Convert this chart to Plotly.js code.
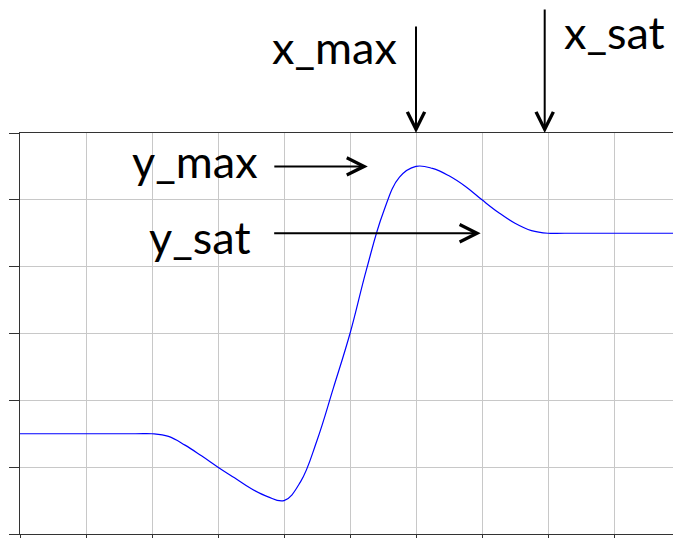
<!DOCTYPE html>
<html>
<head>
<meta charset="utf-8">
<script src="https://cdn.plot.ly/plotly-3.0.1.min.js"></script>
<style>
  body { margin: 0; overflow: hidden; background: #fff; }
  #plot { width: 673px; height: 538px; }
</style>
</head>
<body>
<div id="plot"></div>
<script>
// Curve values (roughly every quarter grid step)
const xValues = [0, 1.75, 2, 2.25, 2.5, 2.75, 3, 3.25, 3.5, 3.75, 4, 4.25, 4.5, 4.75, 5, 5.25, 5.5, 5.75, 6, 6.25, 6.5, 6.75, 7, 7.25, 7.5, 7.75, 8, 8.25, 9.9];
const yValues = [1.5, 1.5, 1.5, 1.46, 1.33, 1.17, 1.0, 0.84, 0.68, 0.56, 0.5, 0.78, 1.4, 2.19, 3.0, 3.96, 4.8, 5.34, 5.5, 5.47, 5.36, 5.2, 5.0, 4.81, 4.65, 4.54, 4.5, 4.5, 4.5];

// Marker labels
const labels = ['x_max', 'x_sat', 'y_max', 'y_sat'];

const trace = {
    x: xValues,
    y: yValues,
    mode: 'lines',
    type: 'scatter',
    line: { color: '#0000ff', width: 1.2, shape: 'spline', smoothing: 1.15 },
    hoverinfo: 'skip'
};

const textFont = { family: 'Lato, "Open Sans", sans-serif', size: 45, color: '#000' };

// text labels (paper coords)
const textAnns = [
    { text: labels[0], x: 0.482, y: 1.215 },
    { text: labels[1], x: 0.911, y: 1.252 },
    { text: labels[2], x: 0.268, y: 0.930 },
    { text: labels[3], x: 0.275, y: 0.740 }
].map(a => ({
    text: a.text, x: a.x, y: a.y, xref: 'paper', yref: 'paper',
    xanchor: 'center', yanchor: 'middle', showarrow: false, font: textFont
}));

// arrows pointing at x_max, x_sat, y_max, y_sat
const arrowBase = {
    text: '', showarrow: true, arrowhead: 5, arrowsize: 1.7, arrowwidth: 2,
    arrowcolor: '#000', standoff: 0
};
const arrowAnns = [
    { x: 6, y: 1, xref: 'x', yref: 'paper', ax: 0, ay: -108 },
    { x: 7.95, y: 1, xref: 'x', yref: 'paper', ax: 0, ay: -125 },
    { x: 5.27, y: 5.5, xref: 'x', yref: 'y', ax: -95, ay: 0 },
    { x: 6.98, y: 4.5, xref: 'x', yref: 'y', ax: -208, ay: 0 }
].map(a => Object.assign({}, arrowBase, a));

const layout = {
    width: 673,
    height: 538,
    margin: { l: 20, r: 0, t: 133, b: 4 },
    paper_bgcolor: '#fff',
    plot_bgcolor: '#fff',
    showlegend: false,
    xaxis: {
        range: [0, 9.894],
        dtick: 1,
        tick0: 0,
        showgrid: true,
        gridcolor: '#c8c8c8',
        gridwidth: 1,
        zeroline: false,
        showline: true,
        linecolor: '#333',
        linewidth: 1,
        mirror: true,
        ticks: 'outside',
        ticklen: 5,
        tickcolor: '#333',
        showticklabels: false
    },
    yaxis: {
        range: [0, 6],
        dtick: 1,
        tick0: 0,
        showgrid: true,
        gridcolor: '#c8c8c8',
        gridwidth: 1,
        zeroline: false,
        showline: true,
        linecolor: '#333',
        linewidth: 1,
        ticks: 'outside',
        ticklen: 10,
        tickcolor: '#333',
        showticklabels: false
    },
    annotations: textAnns.concat(arrowAnns)
};

Plotly.newPlot('plot', [trace], layout, { staticPlot: true });
</script>
</body>
</html>
